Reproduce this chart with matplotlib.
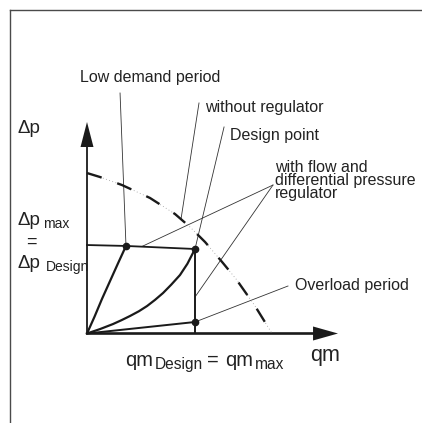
import matplotlib
matplotlib.use("Agg")
import matplotlib.pyplot as plt
from matplotlib.lines import Line2D

plt.rcParams['font.family'] = ['Liberation Sans', 'DejaVu Sans']

# ---- data (q relative to q_design, dp relative to dp_design) ----
reg_q = [0.0, 0.361, 1.0]
reg_p = [1.047, 1.036, 1.0]

low_q = [0.0, 0.07, 0.139, 0.213, 0.287, 0.361]
low_p = [0.0, 0.20, 0.41, 0.62, 0.83, 1.036]

des_q = [0.0, 0.12, 0.241, 0.32, 0.398, 0.48, 0.556, 0.63, 0.704, 0.78, 0.861, 0.93, 1.0]
des_p = [0.0, 0.052, 0.112, 0.158, 0.207, 0.263, 0.325, 0.398, 0.479, 0.578, 0.692, 0.826, 1.0]

pump_q = [0.0, 0.120, 0.324, 0.583, 0.815, 0.954, 1.093, 1.157, 1.259, 1.380, 1.556, 1.713]
pump_p = [1.899, 1.852, 1.757, 1.604, 1.414, 1.260, 1.083, 0.988, 0.834, 0.645, 0.325, 0.0]

over_q = [0.0, 1.0]
over_p = [0.0, 0.136]

vert_q = [1.0, 1.0]
vert_p = [1.0, 0.0]

point_q = [0.361, 1.0, 1.0]
point_p = [1.036, 1.0, 0.136]

q_axis_end = 2.324
p_axis_end = 2.503

# leader lines: (start, end)
leaders = [
    ((0.306, 2.846), (0.361, 1.036)),
    ((1.037, 2.728), (0.870, 1.350)),
    ((1.269, 2.444), (1.0, 1.0)),
    ((1.722, 1.757), (0.509, 1.030)),
    ((1.722, 1.757), (1.0, 0.432)),
    ((1.861, 0.562), (1.0, 0.136)),
]

labels = [
    ("Low demand period", -0.065, 2.976),
    ("without regulator", 1.093, 2.627),
    ("Design point", 1.324, 2.290),
    ("with flow and\ndifferential pressure\nregulator", 1.741, 1.604),
    ("Overload period", 1.926, 0.515),
]

fig = plt.figure(figsize=(4.22, 4.23), dpi=100)
ax = fig.add_axes([0, 0, 1, 1])
ax.set_xlim(-0.8056, 3.1019)
ax.set_ylim(-1.0592, 3.9467)
ax.axis('off')

# frame (left and top)
fc = '#4a4a4a'
fig.add_artist(Line2D([9.5/422, 9.5/422], [0, 1 - 10.5/423], color=fc, lw=1.0))
fig.add_artist(Line2D([9.5/422, 1], [1 - 10.5/423, 1 - 10.5/423], color=fc, lw=1.0))

ink = '#1a1a1a'

# axes with arrow heads
ax.plot([0, q_axis_end - 0.2], [0, 0], color=ink, lw=1.9, solid_capstyle='butt')
ax.plot([0, 0], [0, p_axis_end - 0.25], color=ink, lw=1.3, solid_capstyle='butt')
xh_len, xh_half = 0.231, 0.083
yh_len, yh_half = 0.296, 0.060
ax.fill([q_axis_end - xh_len, q_axis_end, q_axis_end - xh_len],
        [-xh_half, 0, xh_half], color=ink, lw=0)
ax.fill([-yh_half, 0, yh_half],
        [p_axis_end - yh_len, p_axis_end, p_axis_end - yh_len], color=ink, lw=0)

# leaders
for (s, e) in leaders:
    ax.plot([s[0], e[0]], [s[1], e[1]], color='#333333', lw=0.6)

# pump curve (without regulator)
ax.plot(pump_q, pump_p, color='#9a9a9a', lw=0.6, linestyle=(0, (1, 3)))
ax.plot(pump_q, pump_p, color=ink, lw=1.7, linestyle=(0, (6.5, 7)))

# regulated curves
ax.plot(reg_q, reg_p, color=ink, lw=1.3)
ax.plot(low_q, low_p, color=ink, lw=1.6, solid_joinstyle='round')
ax.plot(des_q, des_p, color=ink, lw=1.6, solid_joinstyle='round')
ax.plot(vert_q, vert_p, color=ink, lw=1.4)
ax.plot(over_q, over_p, color=ink, lw=1.4)
ax.plot(point_q, point_p, 'o', color=ink, ms=4.5)

tc = '#222222'
for t, x, y in labels:
    ax.text(x, y, t, fontsize=11.5, color=tc, va='baseline', ha='left',
            linespacing=0.84)

# axis labels
ax.text(-0.639, 2.373, "Δp", fontsize=13.5, color=tc, va='baseline')
ax.text(-0.648, 1.284, "Δp", fontsize=13.5, color=tc, va='baseline')
ax.text(-0.407, 1.249, "max", fontsize=10, color=tc, va='baseline')
ax.text(-0.519, 1.024, "=", fontsize=13, color=tc, va='baseline', ha='center')
ax.text(-0.648, 0.775, "Δp", fontsize=13.5, color=tc, va='baseline')
ax.text(-0.380, 0.740, "Design", fontsize=10, color=tc, va='baseline')

ax.text(0.352, -0.385, "qm", fontsize=14.4, color=tc, va='baseline')
ax.text(0.630, -0.420, "Design", fontsize=11.2, color=tc, va='baseline')
ax.text(1.111, -0.385, "=", fontsize=14.4, color=tc, va='baseline')
ax.text(1.278, -0.385, "qm", fontsize=14.4, color=tc, va='baseline')
ax.text(1.556, -0.420, "max", fontsize=11.2, color=tc, va='baseline')

ax.text(2.065, -0.325, "qm", fontsize=15.5, color=tc, va='baseline')

fig.savefig("out.png", dpi=100)
